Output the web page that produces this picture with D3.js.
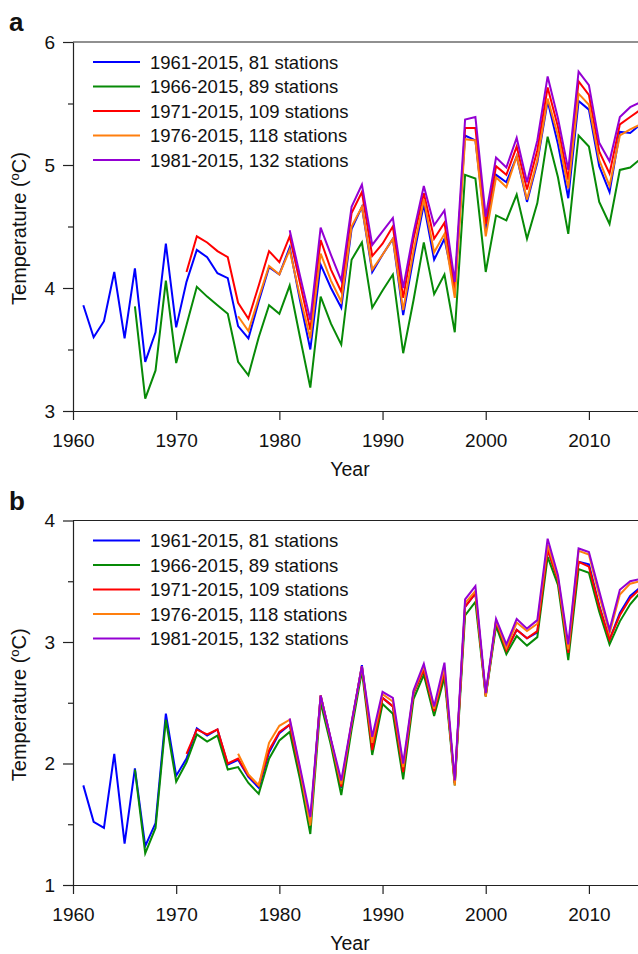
<!DOCTYPE html>
<html>
<head>
<meta charset="utf-8">
<script src="https://cdn.jsdelivr.net/npm/d3@7/dist/d3.min.js"></script>
<style>
body { margin: 0; background: #fff; }
text { font-family: "Liberation Sans", Arial, sans-serif; fill: #111; }
</style>
</head>
<body>
<div id="chart-area"></div>
<script>
// legend entries, colours and first year of each station group
const seriesNames = ["1961-2015, 81 stations", "1966-2015, 89 stations", "1971-2015, 109 stations",
	"1976-2015, 118 stations", "1981-2015, 132 stations"];
const seriesColors = ["#0000ff", "#078a07", "#ff0000", "#ff7f0e", "#9400d3"];
const startYears = [1961, 1966, 1971, 1976, 1981];
const xTicks = [1960, 1970, 1980, 1990, 2000, 2010];

// panel a
const a1961 = [3.86, 3.60, 3.73, 4.13, 3.59, 4.16, 3.40, 3.64, 4.36, 3.68, 4.05, 4.31, 4.25, 4.12, 4.08,
	3.69, 3.59, 3.89, 4.17, 4.11, 4.33, 3.90, 3.50, 4.19, 4.00, 3.84, 4.48, 4.66, 4.13, 4.27, 4.40, 3.78,
	4.25, 4.68, 4.23, 4.40, 4.00, 5.24, 5.20, 4.47, 4.92, 4.86, 5.07, 4.70, 5.02, 5.52, 5.17, 4.73, 5.52,
	5.45, 4.99, 4.78, 5.27, 5.26, 5.33];
const a1966 = [3.85, 3.10, 3.33, 4.06, 3.39, 3.70, 4.01, 3.93, 3.86, 3.79, 3.40, 3.29, 3.60, 3.86, 3.79,
	4.02, 3.60, 3.19, 3.93, 3.71, 3.54, 4.23, 4.37, 3.84, 3.98, 4.11, 3.47, 3.90, 4.37, 3.95, 4.11, 3.64,
	4.92, 4.89, 4.13, 4.59, 4.55, 4.76, 4.40, 4.69, 5.23, 4.90, 4.44, 5.24, 5.15, 4.70, 4.52, 4.96, 4.98, 5.05];
const a1971 = [4.13, 4.42, 4.37, 4.30, 4.25, 3.88, 3.75, 4.02, 4.30, 4.21, 4.42, 4.04, 3.66, 4.39, 4.15,
	3.97, 4.61, 4.78, 4.26, 4.36, 4.50, 3.92, 4.40, 4.77, 4.40, 4.53, 3.98, 5.30, 5.30, 4.52, 4.99, 4.92,
	5.15, 4.80, 5.12, 5.63, 5.31, 4.88, 5.68, 5.57, 5.11, 4.93, 5.33, 5.39, 5.45];
const a1976 = [3.77, 3.65, 3.92, 4.18, 4.11, 4.31, 3.93, 3.59, 4.28, 4.06, 3.89, 4.50, 4.66, 4.15, 4.27,
	4.40, 3.82, 4.30, 4.72, 4.29, 4.44, 3.92, 5.21, 5.20, 4.42, 4.90, 4.82, 5.07, 4.72, 5.04, 5.54, 5.24,
	4.81, 5.58, 5.49, 5.04, 4.83, 5.24, 5.29, 5.33];
const a1981 = [4.47, 4.10, 3.74, 4.49, 4.27, 4.06, 4.66, 4.84, 4.35, 4.46, 4.57, 4.00, 4.45, 4.83, 4.51,
	4.63, 4.05, 5.37, 5.39, 4.58, 5.06, 4.98, 5.22, 4.86, 5.20, 5.72, 5.38, 4.96, 5.76, 5.65, 5.18, 5.03,
	5.39, 5.47, 5.51];

// panel b
const b1961 = [1.82, 1.52, 1.47, 2.08, 1.34, 1.96, 1.32, 1.51, 2.41, 1.90, 2.04, 2.29, 2.23, 2.28, 1.99,
	2.03, 1.89, 1.80, 2.09, 2.25, 2.32, 1.92, 1.50, 2.56, 2.19, 1.80, 2.32, 2.81, 2.12, 2.54, 2.47, 1.94,
	2.58, 2.77, 2.43, 2.76, 1.84, 3.29, 3.40, 2.56, 3.16, 2.93, 3.10, 3.03, 3.08, 3.76, 3.51, 2.91, 3.66,
	3.64, 3.30, 3.02, 3.24, 3.38, 3.45];
const b1966 = [1.95, 1.26, 1.47, 2.36, 1.85, 2.01, 2.24, 2.18, 2.23, 1.95, 1.97, 1.84, 1.75, 2.04, 2.19,
	2.26, 1.87, 1.42, 2.50, 2.15, 1.74, 2.28, 2.76, 2.07, 2.49, 2.41, 1.87, 2.53, 2.73, 2.39, 2.71, 1.82,
	3.22, 3.33, 2.55, 3.13, 2.90, 3.05, 2.97, 3.04, 3.70, 3.47, 2.85, 3.60, 3.57, 3.25, 2.98, 3.17, 3.31, 3.41];
const b1971 = [2.08, 2.28, 2.24, 2.28, 2.00, 2.04, 1.90, 1.82, 2.11, 2.26, 2.32, 1.93, 1.51, 2.56, 2.19,
	1.81, 2.33, 2.80, 2.11, 2.54, 2.47, 1.93, 2.58, 2.77, 2.43, 2.76, 1.84, 3.29, 3.40, 2.56, 3.17, 2.93,
	3.10, 3.03, 3.09, 3.76, 3.51, 2.91, 3.66, 3.62, 3.29, 3.02, 3.22, 3.36, 3.44];
const b1976 = [2.08, 1.91, 1.82, 2.17, 2.31, 2.36, 1.95, 1.49, 2.56, 2.19, 1.83, 2.33, 2.80, 2.17, 2.57,
	2.51, 1.97, 2.59, 2.80, 2.45, 2.79, 1.82, 3.32, 3.42, 2.55, 3.18, 2.95, 3.16, 3.09, 3.15, 3.80, 3.53,
	2.94, 3.75, 3.72, 3.38, 3.07, 3.39, 3.48, 3.50];
const b1981 = [2.37, 1.97, 1.56, 2.56, 2.20, 1.86, 2.34, 2.80, 2.22, 2.59, 2.54, 2.00, 2.60, 2.82, 2.47,
	2.83, 1.86, 3.35, 3.46, 2.58, 3.19, 2.98, 3.19, 3.11, 3.18, 3.85, 3.55, 2.98, 3.77, 3.74, 3.42, 3.10,
	3.43, 3.50, 3.52];

const panels = [
	{ label: "a", series: [a1961, a1966, a1971, a1976, a1981], yDomain: [3, 6], top: 42, bottom: 411 },
	{ label: "b", series: [b1961, b1966, b1971, b1976, b1981], yDomain: [1, 4], top: 520.5, bottom: 885 }
];

let svg = d3.select("#chart-area").append("svg")
	.attr("width", 638)
	.attr("height", 954)

let x = d3.scaleLinear().domain([1960, 2015]).range([73, 640.5]);

panels.forEach(function(p) {
	let y = d3.scaleLinear().domain(p.yDomain).range([p.bottom, p.top]);
	let g = svg.append("g");

	// frame top line
	g.append("line")
		.attr("x1", 73).attr("x2", 640)
		.attr("y1", p.top).attr("y2", p.top)
		.attr("stroke", "#222").attr("stroke-width", 1.2);

	// y axis with half-degree minor ticks
	let yTicks = d3.range(p.yDomain[0], p.yDomain[1] + 0.01, 0.5);
	let yAxis = g.append("g")
		.attr("transform", "translate(73,0)")
		.call(d3.axisLeft(y).tickValues(yTicks).tickSize(10).tickSizeOuter(0).tickPadding(8)
			.tickFormat(function(d) { return d % 1 == 0 ? d : ""; }));
	yAxis.selectAll(".tick line").filter(function(d) { return d % 1 != 0; }).attr("x2", -5);

	// x axis
	g.append("g")
		.attr("transform", "translate(0," + p.bottom + ")")
		.call(d3.axisBottom(x).tickValues(xTicks).tickSize(9).tickSizeOuter(0).tickPadding(14)
			.tickFormat(d3.format("d")));

	g.selectAll(".domain, .tick line").attr("stroke", "#222").attr("stroke-width", 1.2);
	g.selectAll(".tick text").attr("font-size", 19).attr("fill", "#111")
		.attr("font-family", "'Liberation Sans', Arial, sans-serif");

	// series lines
	let line = d3.line()
		.x(function(d) { return x(d.year); })
		.y(function(d) { return y(d.value); });

	p.series.forEach(function(values, i) {
		let pts = values.map(function(v, j) { return { year: startYears[i] + j, value: v }; });
		g.append("path")
			.datum(pts)
			.attr("fill", "none")
			.attr("stroke", seriesColors[i])
			.attr("stroke-width", 2)
			.attr("stroke-linejoin", "miter")
			.attr("d", line);
	});

	// legend
	let legend = g.selectAll(".legend")
		.data(seriesNames)
		.enter().append("g")
		.attr("transform", function(d, i) { return "translate(93," + (p.top + 20 + i * 24.5) + ")"; });
	legend.append("line")
		.attr("x1", 0).attr("x2", 47)
		.attr("stroke", function(d, i) { return seriesColors[i]; })
		.attr("stroke-width", 2);
	legend.append("text")
		.attr("x", 57).attr("dy", "0.36em")
		.attr("font-size", 18.5)
		.text(function(d) { return d; });

	// axis titles
	g.append("text")
		.attr("x", 350).attr("y", p.bottom + 65)
		.attr("text-anchor", "middle")
		.attr("font-size", 19.5)
		.text("Year");

	let yl = g.append("text")
		.attr("transform", "translate(26," + ((p.top + p.bottom) / 2 + 2) + ") rotate(-90)")
		.attr("text-anchor", "middle")
		.attr("font-size", 20);
	yl.append("tspan").text("Temperature (");
	yl.append("tspan").attr("font-size", 13).attr("dy", -7).text("o");
	yl.append("tspan").attr("dy", 7).text("C)");

	// panel letter
	g.append("text")
		.attr("x", 9).attr("y", p.top - 11)
		.attr("font-size", 26)
		.attr("font-weight", "bold")
		.text(p.label);
});
</script>
</body>
</html>
